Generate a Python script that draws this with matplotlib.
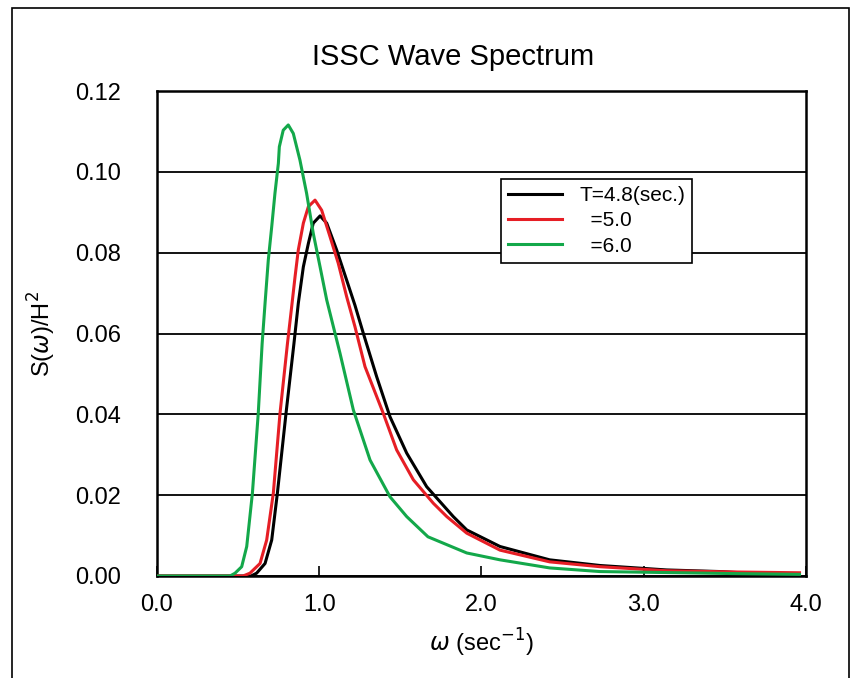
import numpy as np
import matplotlib
matplotlib.use("Agg")
import matplotlib.pyplot as plt
from matplotlib.patches import Rectangle

plt.rcParams['font.family'] = ['Liberation Sans Narrow', 'Liberation Sans', 'DejaVu Sans']

# T = 4.8 sec
w_48 = [0.0, 0.58, 0.614, 0.666, 0.707, 0.742, 0.795, 0.844, 0.871, 0.902, 0.933, 0.963,
        1.005, 1.046, 1.107, 1.169, 1.22, 1.272, 1.354, 1.436, 1.539, 1.662, 1.826,
        1.909, 2.114, 2.42, 2.73, 3.14, 3.47, 3.6]
s_48 = [0.0, 0.0, 0.0007, 0.0031, 0.0089, 0.0205, 0.0402, 0.0575, 0.0675, 0.0765, 0.0823, 0.0873,
        0.0891, 0.0873, 0.0807, 0.0732, 0.0670, 0.0600, 0.0493, 0.0394, 0.0304, 0.0221, 0.0147,
        0.0114, 0.0073, 0.0040, 0.0026, 0.0015, 0.0011, 0.0008]

# T = 5.0 sec
w_50 = [0.0, 0.53, 0.573, 0.635, 0.676, 0.717, 0.758, 0.804, 0.830, 0.851, 0.871, 0.902,
        0.933, 0.974, 1.015, 1.066, 1.117, 1.169, 1.22, 1.282, 1.395, 1.477, 1.58, 1.703,
        1.786, 1.909, 2.114, 2.42, 2.73, 3.14, 3.55, 3.96]
s_50 = [0.0, 0.0, 0.0007, 0.0031, 0.0089, 0.0205, 0.0402, 0.0575, 0.0666, 0.0741, 0.0807, 0.0873,
        0.0914, 0.0930, 0.0905, 0.0840, 0.0774, 0.0691, 0.0617, 0.0518, 0.0402, 0.0312, 0.0238, 0.0180,
        0.0147, 0.0106, 0.0064, 0.0035, 0.0023, 0.0013, 0.0010, 0.0008]

# T = 6.0 sec
w_60 = [0.0, 0.45, 0.481, 0.522, 0.553, 0.588, 0.624, 0.648, 0.666, 0.686, 0.707, 0.727,
        0.748, 0.754, 0.778, 0.809, 0.840, 0.881, 0.922, 0.963, 1.005, 1.046, 1.128,
        1.21, 1.313, 1.436, 1.539, 1.67, 1.909, 2.114, 2.42, 2.73, 3.55, 3.96]
s_60 = [0.0, 0.0, 0.0007, 0.0023, 0.0073, 0.0205, 0.0402, 0.0575, 0.0675, 0.0782, 0.0864, 0.0947,
        0.1021, 0.1062, 0.1103, 0.1116, 0.1095, 0.1029, 0.0947, 0.0848, 0.0765, 0.0683, 0.0551,
        0.0411, 0.0287, 0.0196, 0.0147, 0.0097, 0.0057, 0.0040, 0.0020, 0.0011, 0.0006, 0.0004]

labels = ["T=4.8(sec.)", "  =5.0", "  =6.0"]
colors = ["black", "#e61e25", "#13a84a"]

fig = plt.figure(figsize=(8.53, 6.78), dpi=100)
fig.patches.append(Rectangle((12/853, -0.05), 837/853, 1.05 - 8/678, transform=fig.transFigure,
                             fill=False, edgecolor="black", linewidth=1.2))
ax = fig.add_axes([157/853, 1 - 576/678, 649/853, 485/678])

ax.plot(w_48, s_48, color=colors[0], lw=2.2, label=labels[0], zorder=3)
ax.plot(w_50, s_50, color=colors[1], lw=2.2, label=labels[1], zorder=3)
ax.plot(w_60, s_60, color=colors[2], lw=2.2, label=labels[2], zorder=3)

ax.set_xlim(0, 4.0)
ax.set_ylim(0, 0.12)
ax.set_xticks(np.arange(0, 4.01, 1.0))
ax.set_yticks(np.arange(0, 0.121, 0.02))
ax.xaxis.set_major_formatter(matplotlib.ticker.FormatStrFormatter('%.1f'))
ax.yaxis.set_major_formatter(matplotlib.ticker.FormatStrFormatter('%.2f'))
ax.tick_params(axis='x', direction='in', length=7, width=1.2, labelsize=17, pad=13)
ax.tick_params(axis='y', length=0, labelsize=17, pad=26)
ax.grid(axis='y', color='black', linewidth=1.3)
for sp in ax.spines.values():
    sp.set_linewidth(1.8)

fig.text(453/853, 1 - 57/678, "ISSC Wave Spectrum", fontsize=21, ha='center', va='center')
ax.set_xlabel(r"$\omega$ (sec$^{-1}$)", fontsize=17, labelpad=8)
ax.set_ylabel(r"S($\omega$)/H$^2$", fontsize=17, labelpad=12)

leg = ax.legend(loc='upper left', bbox_to_anchor=(0.530, 0.819), fontsize=15,
                fancybox=False, edgecolor='black', framealpha=1, handlelength=2.6,
                borderpad=0.35, labelspacing=0.3, borderaxespad=0)
leg.get_frame().set_linewidth(1.2)

fig.savefig("out.png", dpi=100)
